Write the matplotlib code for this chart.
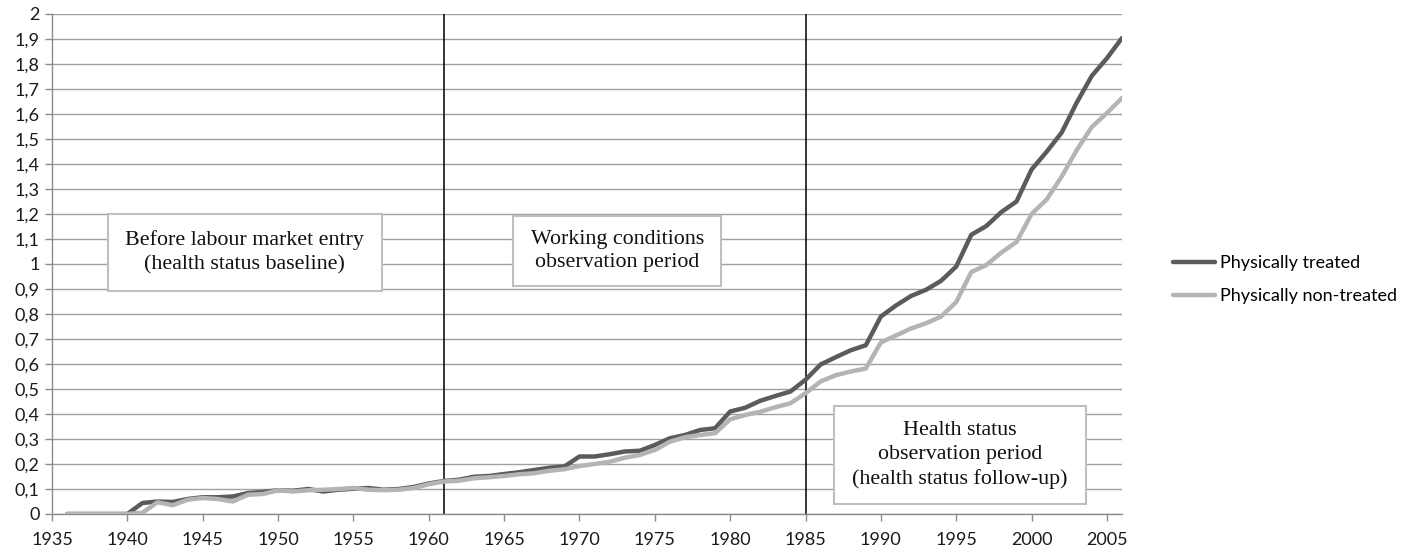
import matplotlib
matplotlib.use('Agg')
import matplotlib.pyplot as plt
from matplotlib.patches import Rectangle
from matplotlib.ticker import FuncFormatter, MultipleLocator

years = list(range(1936, 2007))

treated = [0, 0, 0, 0, 0,
           0.044, 0.050, 0.048, 0.060, 0.067, 0.067, 0.070, 0.084, 0.088, 0.095,
           0.093, 0.100, 0.090, 0.097, 0.101, 0.104, 0.097, 0.100, 0.108, 0.122,
           0.132, 0.137, 0.149, 0.152, 0.160, 0.167, 0.176, 0.185, 0.190, 0.230,
           0.230, 0.239, 0.250, 0.253, 0.276, 0.303, 0.316, 0.336, 0.343, 0.410,
           0.425, 0.453, 0.472, 0.490, 0.537, 0.598, 0.627, 0.655, 0.675, 0.790,
           0.834, 0.872, 0.897, 0.933, 0.990, 1.117, 1.152, 1.208, 1.250, 1.378,
           1.449, 1.526, 1.646, 1.753, 1.823, 1.904]

non_treated = [0, 0, 0, 0, 0,
               0.005, 0.047, 0.035, 0.057, 0.064, 0.060, 0.050, 0.077, 0.080, 0.095,
               0.090, 0.095, 0.097, 0.100, 0.104, 0.097, 0.095, 0.097, 0.104, 0.119,
               0.130, 0.133, 0.143, 0.147, 0.152, 0.159, 0.163, 0.173, 0.179, 0.192,
               0.200, 0.209, 0.225, 0.236, 0.256, 0.289, 0.307, 0.316, 0.323, 0.379,
               0.396, 0.409, 0.427, 0.443, 0.483, 0.530, 0.555, 0.570, 0.582, 0.686,
               0.714, 0.742, 0.763, 0.790, 0.848, 0.968, 0.996, 1.046, 1.088, 1.200,
               1.258, 1.350, 1.456, 1.548, 1.604, 1.664]

period_lines = [1961, 1985]

# boxes: (x0, x1, y0, y1) in data units, text
boxes = [
    ((1938.7, 1956.9, 0.893, 1.200), 'Before labour market entry\n(health status baseline)'),
    ((1965.6, 1979.4, 0.911, 1.193), 'Working conditions\nobservation period'),
    ((1986.9, 2003.6, 0.039, 0.433), 'Health status\nobservation period\n(health status follow-up)'),
]

fig = plt.figure(figsize=(14.19, 5.54), dpi=100)
ax = fig.add_axes([52 / 1419, 40 / 554, (1122 - 52) / 1419, 500 / 554])

grid_col = '#a0a0a0'
ax.set_xlim(1935, 2006)
ax.set_ylim(0, 2)
ax.yaxis.set_major_locator(MultipleLocator(0.1))
ax.xaxis.set_major_locator(MultipleLocator(5))
ax.yaxis.set_major_formatter(FuncFormatter(lambda v, p: f'{round(v, 1):g}'.replace('.', ',')))
ax.grid(axis='y', color=grid_col, lw=1.0)
ax.set_axisbelow(True)
for s in ['top', 'right']:
    ax.spines[s].set_visible(False)
for s in ['left', 'bottom']:
    ax.spines[s].set_color('#8c8c8c')
    ax.spines[s].set_linewidth(1.0)
ax.tick_params(axis='both', color='#8c8c8c', length=5, width=1.0, direction='out',
               labelsize=13, labelcolor='#1a1a1a')
ax.tick_params(axis='x', pad=8)
ax.tick_params(axis='y', pad=4)
for lab in ax.get_xticklabels() + ax.get_yticklabels():
    lab.set_family('Lato')

for x in period_lines:
    ax.axvline(x, color='black', lw=1.1, zorder=2)

for (x0, x1, y0, y1), txt in boxes:
    ax.add_patch(Rectangle((x0, y0), x1 - x0, y1 - y0, facecolor='white',
                           edgecolor='#bfbfbf', lw=1.5, zorder=3))
    ax.text((x0 + x1) / 2, (y0 + y1) / 2, txt, ha='center', va='center',
            family='Liberation Serif', fontsize=15.8, linespacing=1.33,
            color='#111111', zorder=4)

ax.plot(years, treated, color='#5b5b5b', lw=3.2, solid_joinstyle='round',
        solid_capstyle='round', label='Physically treated', zorder=5)
ax.plot(years, non_treated, color='#b4b4b4', lw=3.2, solid_joinstyle='round',
        solid_capstyle='round', label='Physically non-treated', zorder=5)

fig.legend(loc='center left', bbox_to_anchor=(1173 / 1419, 274.6 / 554),
           frameon=False, borderpad=0, borderaxespad=0, handlelength=2.3,
           handletextpad=0.3, labelspacing=0.95,
           prop={'family': 'Lato', 'size': 13})

fig.savefig('out.png', dpi=100)
